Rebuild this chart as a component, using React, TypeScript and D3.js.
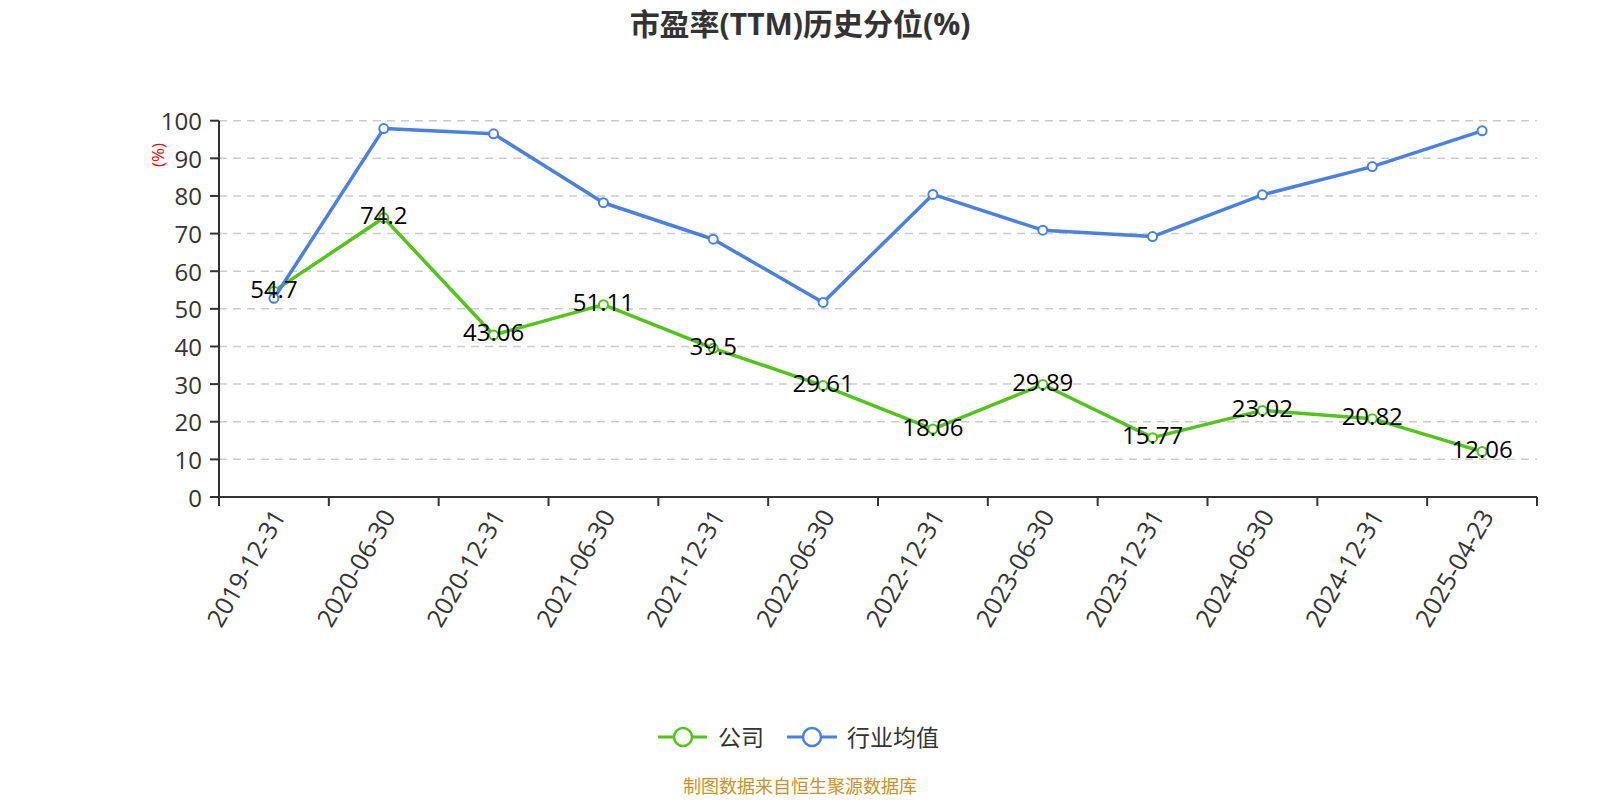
import React from "react";
import * as d3 from "d3";

const categories = [
  "2019-12-31", "2020-06-30", "2020-12-31", "2021-06-30", "2021-12-31", "2022-06-30",
  "2022-12-31", "2023-06-30", "2023-12-31", "2024-06-30", "2024-12-31", "2025-04-23",
];
const companyValues = [54.7, 74.2, 43.06, 51.11, 39.5, 29.61, 18.06, 29.89, 15.77, 23.02, 20.82, 12.06];
const industryValues = [52.8, 97.9, 96.5, 78.2, 68.5, 51.7, 80.4, 70.9, 69.2, 80.3, 87.8, 97.3];
const yTicks = [0, 10, 20, 30, 40, 50, 60, 70, 80, 90, 100];
const seriesNames = ["公司", "行业均值"];

const W = 1600;
const H = 800;
const left = 219;
const right = 1537;
const top = 120.7;
const bottom = 497;
const GREEN = "#52c41a";
const BLUE = "#4a80e0";
const FONT = "'Open Sans', 'Noto Sans CJK SC', sans-serif";

export default function App() {
  const x = d3.scaleBand<string>().domain(categories).range([left, right]);
  const y = d3.scaleLinear().domain([0, 100]).range([bottom, top]);
  const cx = (c: string) => (x(c) as number) + x.bandwidth() / 2;
  const line = d3
    .line<number>()
    .x((_, i) => cx(categories[i]))
    .y((d) => y(d));

  const series = [
    { name: seriesNames[0], values: companyValues, color: GREEN, labels: true },
    { name: seriesNames[1], values: industryValues, color: BLUE, labels: false },
  ];

  const boundaries = categories.map((c) => x(c) as number).concat([right]);

  return (
    <svg
      width={W}
      height={H}
      style={{ position: "absolute", left: 0, top: 0, background: "#fff" }}
      fontFamily={FONT}
    >
      <text x={800} y={23} textAnchor="middle" dominantBaseline="central" fontSize={30} fontWeight="bold" fill="#333">
        市盈率(TTM)历史分位(%)
      </text>

      {/* grid */}
      {yTicks.filter((t) => t > 0).map((t) => (
        <line key={t} x1={left} x2={right} y1={y(t)} y2={y(t)} stroke="#cccccc" strokeWidth={1.5} strokeDasharray="8,6" />
      ))}

      {/* y axis */}
      <line x1={left} x2={left} y1={top} y2={bottom} stroke="#333" strokeWidth={2} />
      {yTicks.map((t) => (
        <g key={t}>
          <line x1={left - 9} x2={left} y1={y(t)} y2={y(t)} stroke="#333" strokeWidth={2} />
          <text x={left - 17} y={y(t)} textAnchor="end" dominantBaseline="central" fontSize={24} fill="#333">
            {t}
          </text>
        </g>
      ))}
      <text
        transform={`translate(157,155) rotate(-90)`}
        textAnchor="middle"
        dominantBaseline="central"
        fontSize={17}
        fill="#ff0000"
      >
        (%)
      </text>

      {/* x axis */}
      <line x1={left} x2={right} y1={bottom} y2={bottom} stroke="#333" strokeWidth={2} />
      {boundaries.map((b, i) => (
        <line key={i} x1={b} x2={b} y1={bottom} y2={bottom + 9} stroke="#333" strokeWidth={2} />
      ))}
      {categories.map((c) => (
        <text
          key={c}
          transform={`translate(${cx(c) + 4},${bottom + 14}) rotate(-60)`}
          textAnchor="end"
          dominantBaseline="central"
          fontSize={25}
          fill="#333"
        >
          {c}
        </text>
      ))}

      {/* series */}
      {series.map((s) => (
        <g key={s.name}>
          <path d={line(s.values) as string} fill="none" stroke={s.color} strokeWidth={3.5} strokeLinejoin="round" />
          {s.values.map((v, i) => (
            <circle key={i} cx={cx(categories[i])} cy={y(v)} r={4.5} fill="#fff" stroke={s.color} strokeWidth={2} />
          ))}
        </g>
      ))}
      {series
        .filter((s) => s.labels)
        .map((s) =>
          s.values.map((v, i) => (
            <text
              key={s.name + i}
              x={cx(categories[i])}
              y={y(v) - 3}
              textAnchor="middle"
              dominantBaseline="central"
              fontSize={24}
              fill="#000"
            >
              {v}
            </text>
          ))
        )}

      {/* legend */}
      <g>
        <line x1={658} x2={707} y1={737} y2={737} stroke={GREEN} strokeWidth={3} />
        <circle cx={683} cy={737} r={9} fill="#fff" stroke={GREEN} strokeWidth={2.5} />
        <text x={718} y={737} dominantBaseline="central" fontSize={23} fill="#333">
          {seriesNames[0]}
        </text>
        <line x1={787} x2={837} y1={737} y2={737} stroke={BLUE} strokeWidth={3} />
        <circle cx={812} cy={737} r={9} fill="#fff" stroke={BLUE} strokeWidth={2.5} />
        <text x={847} y={737} dominantBaseline="central" fontSize={23} fill="#333">
          {seriesNames[1]}
        </text>
      </g>

      <text x={800} y={786} textAnchor="middle" dominantBaseline="central" fontSize={18} fill="#c8922a">
        制图数据来自恒生聚源数据库
      </text>
    </svg>
  );
}
